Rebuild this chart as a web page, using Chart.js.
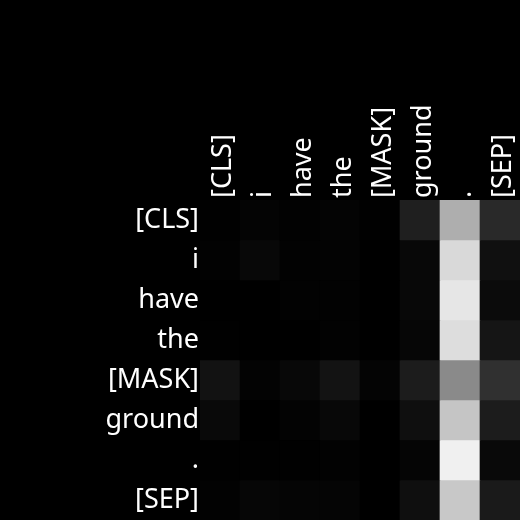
<!DOCTYPE html>
<html>
<head>
<meta charset="utf-8">
<script src="https://cdn.jsdelivr.net/npm/chart.js@4/dist/chart.umd.min.js"></script>
<style>
html,body{margin:0;padding:0;background:#000;}
canvas{display:block;}
</style>
</head>
<body>
<canvas id="c" width="520" height="520"></canvas>
<script>
const tokens = ['[CLS]','i','have','the','[MASK]','ground','.','[SEP]'];
// attention weights, rows = query token, columns = key token
const rowCLS  = [0.004,0.016,0.008,0.016,0.004,0.122,0.682,0.161];
const rowI    = [0.008,0.031,0.008,0.012,0.000,0.031,0.851,0.063];
const rowHave = [0.000,0.000,0.008,0.008,0.000,0.031,0.902,0.043];
const rowThe  = [0.004,0.000,0.000,0.008,0.000,0.024,0.867,0.082];
const rowMask = [0.071,0.012,0.031,0.075,0.016,0.110,0.541,0.188];
const rowGround=[0.035,0.000,0.012,0.031,0.000,0.059,0.773,0.110];
const rowDot  = [0.004,0.004,0.004,0.008,0.000,0.020,0.941,0.035];
const rowSEP  = [0.008,0.024,0.020,0.020,0.000,0.059,0.784,0.102];
const rows = [rowCLS,rowI,rowHave,rowThe,rowMask,rowGround,rowDot,rowSEP];

function gray(v){const g=Math.round(Math.max(0,Math.min(1,v))*255);return `rgb(${g},${g},${g})`;}
const font = {family:'"Noto Sans"', size:27};

const datasets = rows.map((r,i)=>({
  label: tokens[i],
  data: tokens.map(()=>1),
  backgroundColor: r.map(gray),
  borderWidth: 0,
  barPercentage: 1,
  categoryPercentage: 1
}));

new Chart(document.getElementById('c'), {
  type: 'bar',
  data: {labels: tokens, datasets},
  options: {
    responsive: false,
    animation: false,
    layout: {padding: 0},
    plugins: {legend: {display:false}, tooltip: {enabled:false}},
    scales: {
      x: {
        type: 'category', position: 'top', stacked: true,
        grid: {display:false, drawTicks:false, tickLength:0}, border: {display:false},
        ticks: {color:'#ffffff', font, minRotation:90, maxRotation:90, padding:2, autoSkip:false, labelOffset:36},
        afterFit: s => { s.height = 200; s.paddingLeft = 0; s.paddingRight = 0; }
      },
      y: {
        type: 'linear', stacked: true, reverse: true, min: 0, max: 8,
        grid: {display:false, drawTicks:false, tickLength:0}, border: {display:false},
        afterBuildTicks: a => { a.ticks = tokens.map((_,i)=>({value:i+0.5})); },
        ticks: {color:'#ffffff', font, padding:1, autoSkip:false, callback: (v,i)=>tokens[i]},
        afterFit: s => { s.width = 200; s.paddingTop = 0; s.paddingBottom = 0; }
      }
    }
  }
});
</script>
</body>
</html>
